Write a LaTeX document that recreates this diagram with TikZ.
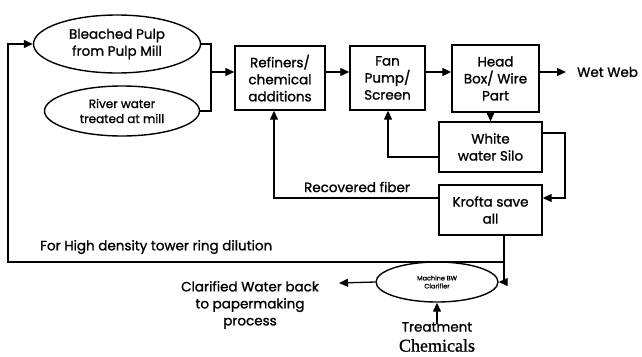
\documentclass[tikz,border=0pt]{standalone}
\usepackage{fontspec}
\setmainfont{Poppins}[FakeBold=1.2]
\newfontfamily\serifchem{Liberation Serif}[FakeBold=1]
\usetikzlibrary{shapes.geometric,arrows.meta}
\begin{document}
\begin{tikzpicture}[x=1pt,y=-1pt,
  every node/.style={font=\fontsize{13.5}{17}\selectfont, align=center, inner sep=0pt},
  small/.style={font=\fontsize{12}{15}\selectfont},
  tiny/.style={font=\fontsize{6.5}{8}\selectfont},
  box/.style={draw, line width=1.4pt},
  oval/.style={ellipse, draw, line width=1.4pt},
  line/.style={line width=1.3pt},
  flow/.style={line width=1.3pt, -{Triangle[length=9pt,width=8pt]}}]
\useasboundingbox (0,0) rectangle (642,356);
% nodes
\node[oval, minimum width=167pt, minimum height=58pt] (bp) at (117,44) {Bleached Pulp\\from Pulp Mill};
\node[oval, small, minimum width=155pt, minimum height=50pt] (rw) at (122,111) {River water\\treated at mill};
\node[box, minimum width=90pt, minimum height=64pt] (ref) at (280,78) {Refiners/\\chemical\\additions};
\node[box, minimum width=75pt, minimum height=64pt] (fan) at (387.5,78) {Fan\\Pump/\\Screen};
\node[box, minimum width=87pt, minimum height=67pt] (head) at (495.5,78.5) {Head\\Box/ Wire\\Part};
\node[box, minimum width=103pt, minimum height=50pt] (silo) at (490.5,147) {White\\water Silo};
\node[box, minimum width=103pt, minimum height=50pt] (krofta) at (490.5,210) {Krofta save\\all};
\node[oval, tiny, minimum width=122pt, minimum height=40pt] (clar) at (437,282) {Machine BW\\Clarifier};
\node[anchor=west] (wet) at (577,72) {Wet Web};
\node (rf) at (357,187) {Recovered fiber};
\node[anchor=west] (hd) at (40,247) {For High density tower ring dilution};
\node (cw) at (250,305) {Clarified Water back\\to papermaking\\process};
\node[font=\fontsize{13.5}{20}\selectfont] (tc) at (437,337) {Treatment\\{\serifchem\fontsize{18}{20}\selectfont Chemicals}};
% coordinates
\coordinate (j) at (211,72);
\coordinate (sr) at (565,133);
\coordinate (ky) at (0,198);
\coordinate (fl) at (388,157);
\coordinate (rl) at (274,198);
\coordinate (kb) at (504,262);
\coordinate (dl) at (8,262);
\coordinate (cwt) at (339,283);
% connectors
\draw[line] (bp.east) -| (j);
\draw[line] (rw.east) -| (j);
\draw[flow] (j) -- (j -| ref.west);
\draw[flow] (j -| ref.east) -- (j -| fan.west);
\draw[flow] (j -| fan.east) -- (j -| head.west);
\draw[flow] (j -| head.east) -- ([xshift=-11pt]wet.west);
\draw[flow] ([xshift=-5pt]head.south) -- ([xshift=-5pt]head.south |- silo.north);
\draw[flow] (sr -| silo.east) -- (sr) |- (ky -| krofta.east);
\draw[flow] (fl -| silo.west) -- (fl) -- (fl |- fan.south);
\draw[flow] (rl -| krofta.west) -- (rl) -- (rl |- ref.south);
\draw[flow] (kb |- krofta.south) -- (kb) -- (dl) |- (bp.west);
\draw[flow] (kb) -- (kb |- clar.east) -- (clar.east);
\draw[flow] (clar.west) -- (cwt);
\draw[flow] ([yshift=-2pt]tc.north) -- (clar.south);
\end{tikzpicture}
\end{document}
